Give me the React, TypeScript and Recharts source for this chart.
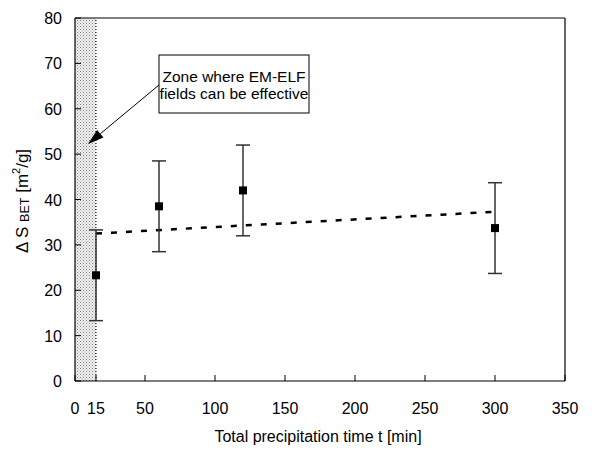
import React from "react";
import {
  ComposedChart,
  XAxis,
  YAxis,
  Scatter,
  Line,
  ErrorBar,
  ReferenceArea,
  ReferenceLine,
} from "recharts";

// ---- data ----
const times = [15, 60, 120, 300];
const surfaceArea = [23.3, 38.5, 42.0, 33.7];
const errors = [10, 10, 10, 10];
const trendTimes = [15, 300];
const trendValues = [32.5, 37.3];
const zoneRange = [0, 15];
const xTicks = [0, 15, 50, 100, 150, 200, 250, 300, 350];
const yTicks = [0, 10, 20, 30, 40, 50, 60, 70, 80];
const xDomain = [0, 350];
const yDomain = [0, 80];

const points = times.map((t, i) => ({ x: t, y: surfaceArea[i], err: errors[i] }));
const trend = trendTimes.map((t, i) => ({ x: t, y: trendValues[i] }));

const FONT = "Arial, 'Liberation Sans', Helvetica, sans-serif";

const XTick = (props: any) => {
  const { x, y, payload } = props;
  return (
    <g>
      <line x1={x} y1={y} x2={x} y2={y - 6} stroke="#000" strokeWidth={1} />
      <text x={x} y={y + 33} textAnchor="middle" fontSize={16} fontFamily={FONT} fill="#000">
        {payload.value}
      </text>
    </g>
  );
};

const YTick = (props: any) => {
  const { x, y, payload } = props;
  return (
    <g>
      <line x1={x} y1={y} x2={x + 6} y2={y} stroke="#000" strokeWidth={1} />
      <text x={x - 13} y={y + 6} textAnchor="end" fontSize={16} fontFamily={FONT} fill="#000">
        {payload.value}
      </text>
    </g>
  );
};

const SquareShape = (props: any) => {
  const { cx, cy } = props;
  if (cx == null || cy == null) return null;
  return <rect x={cx - 4} y={cy - 4} width={8} height={8} fill="#000" />;
};

export default function App() {
  return (
    <div style={{ position: "relative", width: 600, height: 442 }}>
      <ComposedChart
        width={600}
        height={442}
        margin={{ top: 10, right: 43, bottom: 39, left: 7 }}
      >
        <defs>
          <pattern id="stipple" x="0" y="0" width="3" height="3" patternUnits="userSpaceOnUse">
            <rect x="0" y="0" width="3" height="3" fill="#f2f2f2" />
            <rect x="0" y="0" width="1" height="1" fill="#808080" />
            <rect x="1.5" y="1.5" width="1" height="1" fill="#a0a0a0" />
          </pattern>
        </defs>
        <XAxis
          dataKey="x"
          type="number"
          domain={xDomain}
          ticks={xTicks}
          interval={0}
          tickLine={false}
          tickSize={0}
          tickMargin={0}
          tick={<XTick />}
          axisLine={{ stroke: "#000", strokeWidth: 1.2 }}
          height={30}
          allowDataOverflow
        />
        <YAxis
          dataKey="y"
          type="number"
          domain={yDomain}
          ticks={yTicks}
          interval={0}
          tickLine={false}
          tickSize={0}
          tickMargin={0}
          tick={<YTick />}
          axisLine={{ stroke: "#000", strokeWidth: 1.2 }}
          width={60}
          allowDataOverflow
        />
        <ReferenceArea
          x1={zoneRange[0]}
          x2={zoneRange[1]}
          y1={yDomain[0]}
          y2={yDomain[1]}
          fill="url(#stipple)"
          fillOpacity={1}
          stroke="none"
        />
        <ReferenceLine x={zoneRange[1]} stroke="#000" strokeDasharray="1 2" strokeWidth={1} />
        <Line
          data={trend}
          dataKey="y"
          stroke="#000"
          strokeWidth={2.5}
          strokeDasharray="6 9"
          dot={false}
          activeDot={false}
          isAnimationActive={false}
        />
        <Scatter data={points} dataKey="y" shape={<SquareShape />} isAnimationActive={false}>
          <ErrorBar dataKey="err" direction="y" width={7} stroke="#333" strokeWidth={1.5} />
        </Scatter>
      </ComposedChart>
      <svg
        width={600}
        height={442}
        style={{ position: "absolute", left: 0, top: 0, pointerEvents: "none" }}
      >
        <line x1={67} y1={10} x2={557} y2={10} stroke="#000" strokeWidth={1.2} />
        <line x1={557} y1={10} x2={557} y2={373} stroke="#000" strokeWidth={1.2} />
        <line x1={92.3} y1={125.8} x2={151} y2={77} stroke="#000" strokeWidth={1} />
        <polygon points="80,136 95.5,129.6 89.1,121.9" fill="#000" />
        <rect x={151} y={47} width={150} height={58} fill="#fff" stroke="#000" strokeWidth={1} />
        <text x={226} y={74} textAnchor="middle" fontSize={15.5} fontFamily={FONT} fill="#000">
          Zone where EM-ELF
        </text>
        <text x={226} y={91} textAnchor="middle" fontSize={15.5} fontFamily={FONT} fill="#000">
          fields can be effective
        </text>
        <g transform="translate(20 193) rotate(-90)">
          <text x={0} y={0} textAnchor="middle" fontSize={17} fontFamily={FONT} fill="#000">
            <tspan>Δ S </tspan>
            <tspan fontSize={12.5} dy={1}>BET</tspan>
            <tspan dy={-1}> [m</tspan>
            <tspan fontSize={11} dy={-8}>2</tspan>
            <tspan dy={8}>/g]</tspan>
          </text>
        </g>
        <text x={310} y={434} textAnchor="middle" fontSize={16} fontFamily={FONT} fill="#000">
          Total precipitation time t [min]
        </text>
      </svg>
    </div>
  );
}
